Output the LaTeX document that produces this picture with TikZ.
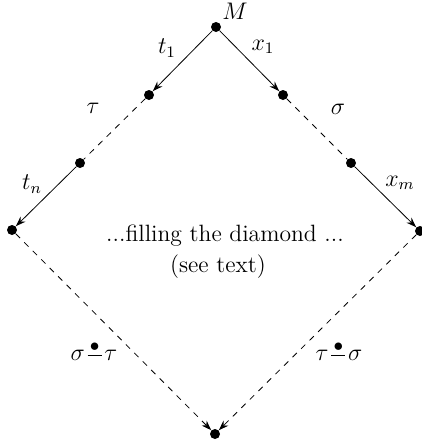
\documentclass[tikz,border=0pt]{standalone}
\usetikzlibrary{arrows.meta}
\newcommand{\dotminus}{\mathord{\mkern2mu\hbox{\ooalign{\hfil\raisebox{0.4em}{\scalebox{0.8}{$\bullet$}}\hfil\cr\raisebox{0.23em}{\rule{0.6em}{0.045em}}\cr}}\mkern2mu}}
\begin{document}
\begin{tikzpicture}[x=0.5pt,y=-0.5pt,
  every node/.style={font=\fontsize{11.8}{14}\selectfont},
  dot/.style={circle,fill=black,inner sep=0pt,minimum size=5pt},
  solidarr/.style={-{Stealth[length=5pt,width=3.5pt]},line width=0.4pt},
  dashline/.style={dashed,line width=0.4pt,dash pattern=on 3pt off 3pt},
  dasharr/.style={dashed,dash pattern=on 3pt off 3pt,-{Stealth[length=5pt,width=3.5pt]},line width=0.4pt}]
\useasboundingbox (0,0) rectangle (422,445);
\node[dot] (M) at (216,27) {};
\node[dot] (a1) at (149,95) {};
\node[dot] (a2) at (80,163) {};
\node[dot] (L) at (12,230) {};
\node[dot] (b1) at (283,95) {};
\node[dot] (b2) at (351,163) {};
\node[dot] (R) at (420,231) {};
\node[dot] (B) at (215,434) {};
\draw[solidarr] (M) -- (a1);
\draw[dashline] (a1) -- (a2);
\draw[solidarr] (a2) -- (L);
\draw[solidarr] (M) -- (b1);
\draw[dashline] (b1) -- (b2);
\draw[solidarr] (b2) -- (R);
\draw[dasharr] (L) -- (B);
\draw[dasharr] (R) -- (B);
\node (lM) at (235,11) {$M$};
\node (lt1) at (167,48) {$t_1$};
\node (lx1) at (263,47) {$x_1$};
\node (ltau) at (93,108) {$\tau$};
\node (lsig) at (338,109) {$\sigma$};
\node (ltn) at (32,184) {$t_n$};
\node (lxm) at (400,183) {$x_m$};
\node (fill) at (225,236) {...filling the diamond ...};
\node (see) at (218,267) {(see text)};
\node (ls) at (94,352) {$\sigma\dotminus\tau$};
\node (lt) at (339,352) {$\tau\dotminus\sigma$};
\end{tikzpicture}
\end{document}
